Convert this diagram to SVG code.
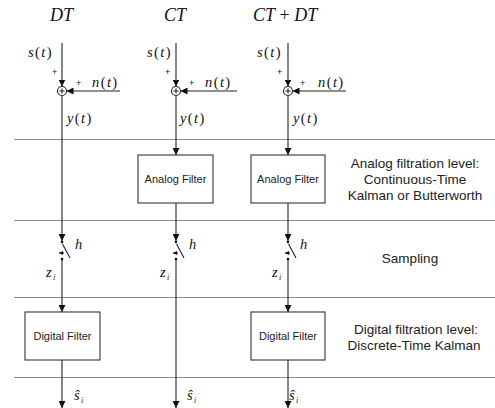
<svg xmlns="http://www.w3.org/2000/svg" width="495" height="408" viewBox="0 0 495 408">
  <defs>
    <marker id="arr" viewBox="0 0 10 10" refX="10" refY="5" markerWidth="7" markerHeight="7" markerUnits="userSpaceOnUse" orient="auto">
      <path d="M0,0 L10,5 L0,10 z" fill="#111"/>
    </marker>
    <marker id="arrs" viewBox="0 0 10 10" refX="10" refY="5" markerWidth="4" markerHeight="4" markerUnits="userSpaceOnUse" orient="auto">
      <path d="M0,0 L10,5 L0,10 z" fill="#111"/>
    </marker>
  </defs>
  <style>
    .sep { stroke: #8a8a8a; stroke-width: 1.2; }
    .wire { stroke: #222; stroke-width: 1.1; fill: none; }
    .box { fill: #fff; stroke: #333; stroke-width: 1.1; }
    .boxt { font-family: "Liberation Sans", Arial, sans-serif; font-size: 11px; fill: #222; text-anchor: middle; }
    .side { font-family: "Liberation Sans", Arial, sans-serif; font-size: 13.5px; fill: #222; text-anchor: middle; }
    .math { font-family: "Liberation Serif", "Times New Roman", serif; font-style: italic; font-size: 14.5px; fill: #111; letter-spacing: 1.4px; }
    .title { font-family: "Liberation Serif", "Times New Roman", serif; font-style: italic; font-size: 18px; fill: #111; }
    .up { font-style: normal; }
    .plus { font-family: "Liberation Sans", Arial, sans-serif; font-size: 9px; fill: #111; }
    .dot { fill: #111; }
  </style>

  <!-- level separators -->
  <g id="separators">
    <line class="sep" x1="14" y1="139.5" x2="495" y2="139.5"/>
    <line class="sep" x1="14" y1="220.5" x2="495" y2="220.5"/>
    <line class="sep" x1="14" y1="297.5" x2="495" y2="297.5"/>
    <line class="sep" x1="14" y1="377.5" x2="495" y2="377.5"/>
  </g>

  <!-- column titles -->
  <g id="titles">
    <text class="title" x="50" y="21">DT</text>
    <text class="title" x="164" y="21">CT</text>
    <text class="title" x="253" y="21">CT<tspan class="up"> + </tspan>DT</text>
  </g>

  <!-- connectors -->
  <g id="connectors">
    <!-- column 1 -->
    <line class="wire" x1="62" y1="43" x2="62" y2="86.5" marker-end="url(#arr)"/>
    <line class="wire" x1="120" y1="91" x2="66.5" y2="91" marker-end="url(#arr)"/>
    <line class="wire" x1="62" y1="95.5" x2="62" y2="241" marker-end="url(#arr)"/>
    <line class="wire" x1="62" y1="259" x2="62" y2="312" marker-end="url(#arr)"/>
    <line class="wire" x1="62" y1="360" x2="62" y2="408" marker-end="url(#arr)"/>
    <!-- column 2 -->
    <line class="wire" x1="176" y1="43" x2="176" y2="86.5" marker-end="url(#arr)"/>
    <line class="wire" x1="237" y1="91" x2="180.5" y2="91" marker-end="url(#arr)"/>
    <line class="wire" x1="176" y1="95.5" x2="176" y2="155" marker-end="url(#arr)"/>
    <line class="wire" x1="176" y1="203" x2="176" y2="241" marker-end="url(#arr)"/>
    <line class="wire" x1="176" y1="259" x2="176" y2="408" marker-end="url(#arr)"/>
    <!-- column 3 -->
    <line class="wire" x1="288" y1="43" x2="288" y2="86.5" marker-end="url(#arr)"/>
    <line class="wire" x1="346" y1="91" x2="292.5" y2="91" marker-end="url(#arr)"/>
    <line class="wire" x1="288" y1="95.5" x2="288" y2="155" marker-end="url(#arr)"/>
    <line class="wire" x1="288" y1="203" x2="288" y2="241" marker-end="url(#arr)"/>
    <line class="wire" x1="288" y1="259" x2="288" y2="312" marker-end="url(#arr)"/>
    <line class="wire" x1="288" y1="360" x2="288" y2="408" marker-end="url(#arr)"/>
  </g>

  <!-- summing junctions -->
  <g id="sum1">
    <circle class="wire" cx="62" cy="91" r="4.5"/>
    <path class="wire" d="M59.5,91 H64.5 M62,88.5 V93.5" stroke-width="0.9"/>
  </g>
  <g id="sum2">
    <circle class="wire" cx="176" cy="91" r="4.5"/>
    <path class="wire" d="M173.5,91 H178.5 M176,88.5 V93.5" stroke-width="0.9"/>
  </g>
  <g id="sum3">
    <circle class="wire" cx="288" cy="91" r="4.5"/>
    <path class="wire" d="M285.5,91 H290.5 M288,88.5 V93.5" stroke-width="0.9"/>
  </g>

  <!-- samplers -->
  <g id="switch1">
    <circle class="dot" cx="62" cy="242" r="1.3"/>
    <line class="wire" x1="62.5" y1="244" x2="70" y2="258"/>
    <line class="wire" x1="64" y1="253" x2="59" y2="253" marker-end="url(#arrs)"/>
    <circle class="dot" cx="62" cy="259" r="1.3"/>
  </g>
  <g id="switch2">
    <circle class="dot" cx="176" cy="242" r="1.3"/>
    <line class="wire" x1="176.5" y1="244" x2="184" y2="258"/>
    <line class="wire" x1="178" y1="253" x2="173" y2="253" marker-end="url(#arrs)"/>
    <circle class="dot" cx="176" cy="259" r="1.3"/>
  </g>
  <g id="switch3">
    <circle class="dot" cx="288" cy="242" r="1.3"/>
    <line class="wire" x1="288.5" y1="244" x2="296" y2="258"/>
    <line class="wire" x1="290" y1="253" x2="285" y2="253" marker-end="url(#arrs)"/>
    <circle class="dot" cx="288" cy="259" r="1.3"/>
  </g>

  <!-- filter blocks -->
  <g id="analog2">
    <rect class="box" x="138" y="155" width="75" height="48"/>
    <text class="boxt" x="175.5" y="183">Analog Filter</text>
  </g>
  <g id="analog3">
    <rect class="box" x="251" y="155" width="74" height="48"/>
    <text class="boxt" x="288" y="183">Analog Filter</text>
  </g>
  <g id="digital1">
    <rect class="box" x="25" y="312" width="75" height="48"/>
    <text class="boxt" x="62.5" y="340">Digital Filter</text>
  </g>
  <g id="digital3">
    <rect class="box" x="251" y="312" width="74" height="48"/>
    <text class="boxt" x="288" y="340">Digital Filter</text>
  </g>

  <!-- signal labels -->
  <g id="labels">
    <text class="math" x="28" y="57">s<tspan class="up">(</tspan>t<tspan class="up">)</tspan></text>
    <text class="math" x="147" y="57">s<tspan class="up">(</tspan>t<tspan class="up">)</tspan></text>
    <text class="math" x="257" y="57">s<tspan class="up">(</tspan>t<tspan class="up">)</tspan></text>

    <text class="plus" x="52" y="75">+</text>
    <text class="plus" x="165" y="75">+</text>
    <text class="plus" x="277" y="75">+</text>
    <text class="plus" x="76" y="86">+</text>
    <text class="plus" x="189" y="86">+</text>
    <text class="plus" x="300" y="86">+</text>

    <text class="math" x="92" y="87">n<tspan class="up">(</tspan>t<tspan class="up">)</tspan></text>
    <text class="math" x="205" y="87">n<tspan class="up">(</tspan>t<tspan class="up">)</tspan></text>
    <text class="math" x="318" y="87">n<tspan class="up">(</tspan>t<tspan class="up">)</tspan></text>

    <text class="math" x="67" y="123">y<tspan class="up">(</tspan>t<tspan class="up">)</tspan></text>
    <text class="math" x="180" y="123">y<tspan class="up">(</tspan>t<tspan class="up">)</tspan></text>
    <text class="math" x="293" y="123">y<tspan class="up">(</tspan>t<tspan class="up">)</tspan></text>

    <text class="math" x="75" y="249">h</text>
    <text class="math" x="189" y="249">h</text>
    <text class="math" x="300" y="249">h</text>

    <text class="math" x="46" y="277">z<tspan font-size="8" dy="3">i</tspan></text>
    <text class="math" x="160" y="277">z<tspan font-size="8" dy="3">i</tspan></text>
    <text class="math" x="272" y="277">z<tspan font-size="8" dy="3">i</tspan></text>

    <text class="math" x="74" y="400">ŝ<tspan font-size="8" dy="3">i</tspan></text>
    <text class="math" x="187" y="400">ŝ<tspan font-size="8" dy="3">i</tspan></text>
    <text class="math" x="289" y="400">ŝ<tspan font-size="8" dy="3">i</tspan></text>
  </g>

  <!-- level descriptions -->
  <g id="level-text">
    <text class="side" x="415" y="168">Analog filtration level:</text>
    <text class="side" x="415" y="184">Continuous-Time</text>
    <text class="side" x="415" y="200">Kalman or Butterworth</text>
    <text class="side" x="410" y="263">Sampling</text>
    <text class="side" x="416" y="334">Digital filtration level:</text>
    <text class="side" x="414" y="350">Discrete-Time Kalman</text>
  </g>
</svg>
